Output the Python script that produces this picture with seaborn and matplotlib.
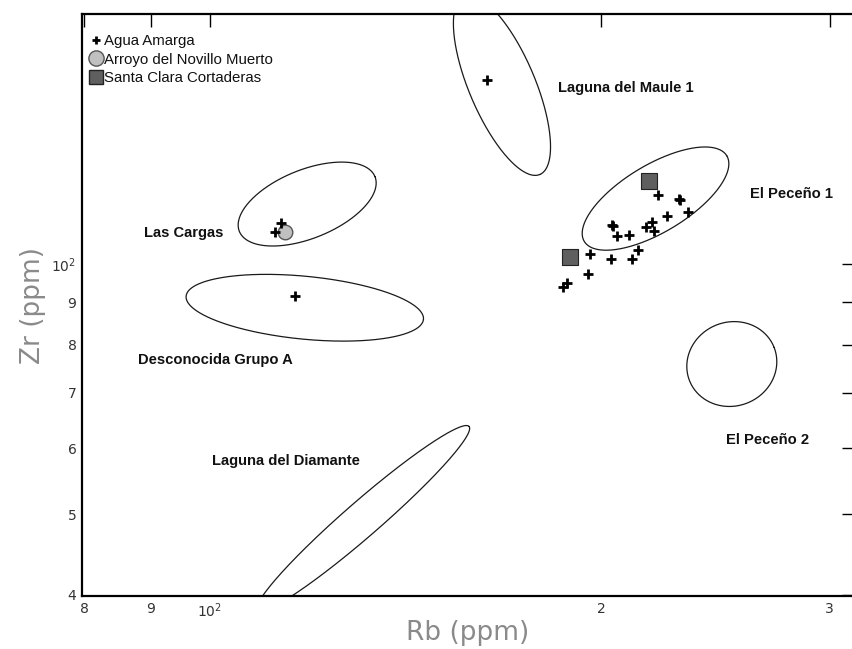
import numpy as np
import pandas as pd
import matplotlib
matplotlib.use("Agg")
import matplotlib.pyplot as plt
import seaborn as sns
from matplotlib.lines import Line2D
from matplotlib.ticker import FixedLocator, FixedFormatter, NullLocator
from matplotlib import font_manager

# ---------------- data ----------------
agua_rb = [163.4, 113.4, 112.2, 116.3, 221.1, 230.0, 229.6, 233.4, 224.9, 219.0,
           216.6, 219.7, 204.4, 204.0, 205.9, 210.3, 213.7, 196.1, 203.5, 211.2,
           195.5, 188.4, 187.1]
agua_zr = [166.5, 112.1, 109.2, 91.5, 121.1, 119.4, 119.9, 115.6, 114.3, 112.4,
           110.7, 109.6, 111.1, 111.5, 108.1, 108.4, 104.0, 102.7, 101.4, 101.4,
           97.3, 95.0, 93.8]
novillo_rb = [114.2]
novillo_zr = [109.4]
santa_rb = [217.9, 189.3]
santa_zr = [125.9, 102.0]

# source fields (ellipses): centre Rb, centre Zr, semi-axes (x-decades), angle (deg)
field_names = ["Laguna del Maule 1", "Las Cargas", "Desconocida Grupo A",
               "Laguna del Diamante", "El Peceño 2", "El Peceño 1"]
field_rb = [167.8, 118.8, 118.3, 131.2, 252.2, 220.3]
field_zr = [164.2, 118.1, 88.6, 49.4, 75.8, 119.9]
field_a = [0.0747, 0.0563, 0.0918, 0.1080, 0.0350, 0.0640]
field_b = [0.0254, 0.0264, 0.0242, 0.0135, 0.0323, 0.0259]
field_ang = [-67.0, 22.0, -5.6, 41.0, 21.5, 31.0]

# labels of the fields
label_rb = [185.3, 89.0, 88.0, 100.4, 249.5, 260.4]
label_zr = [162.8, 109.0, 76.6, 57.9, 61.4, 121.4]

x_ticks = [80, 90, 100, 200, 300]
x_ticklabels = ["8", "9", r"$10^2$", "2", "3"]
y_ticks = [40, 50, 60, 70, 80, 90, 100]
y_ticklabels = ["4", "5", "6", "7", "8", "9", r"$10^2$"]
xlim = (79.7, 313.2)
ylim = (39.85, 200.0)

# ---------------- style ----------------
sns.set_style("white")
plt.rcParams["font.family"] = ["Liberation Sans", "DejaVu Sans"]
plt.rcParams["mathtext.default"] = "regular"

names = {f.name for f in font_manager.fontManager.ttflist}
legend_family = ["Liberation Sans Narrow"] if "Liberation Sans Narrow" in names else ["Liberation Sans"]
legend_size = 12.5 if "Liberation Sans Narrow" in names else 10.8

fig = plt.figure(figsize=(8.52, 6.49), dpi=100)
ax = fig.add_axes([82 / 852, 53 / 649, 772 / 852, 582 / 649])
ax.set_xscale("log")
ax.set_yscale("log")
ax.set_xlim(*xlim)
ax.set_ylim(*ylim)

# ellipses in log space
pos = ax.get_position()
w_px = pos.width * fig.get_figwidth() * fig.dpi
h_px = pos.height * fig.get_figheight() * fig.dpi
ppd_x = w_px / np.log10(xlim[1] / xlim[0])
ppd_y = h_px / np.log10(ylim[1] / ylim[0])
k = ppd_y / ppd_x
t = np.linspace(0, 2 * np.pi, 500)
for cx, cy, a, b, ang in zip(field_rb, field_zr, field_a, field_b, field_ang):
    th = np.deg2rad(ang)
    u = a * np.cos(t) * np.cos(th) - b * np.sin(t) * np.sin(th)
    v = a * np.cos(t) * np.sin(th) + b * np.sin(t) * np.cos(th)
    ax.plot(10 ** (np.log10(cx) + u), 10 ** (np.log10(cy) + v / k),
            color="#1a1a1a", lw=0.9, zorder=2)

# points
df_agua = pd.DataFrame({"Rb": agua_rb, "Zr": agua_zr})
df_nov = pd.DataFrame({"Rb": novillo_rb, "Zr": novillo_zr})
df_sc = pd.DataFrame({"Rb": santa_rb, "Zr": santa_zr})
sns.scatterplot(data=df_agua, x="Rb", y="Zr", marker="+", s=45, color="black",
                linewidth=2.0, ax=ax, zorder=4, legend=False)
sns.scatterplot(data=df_nov, x="Rb", y="Zr", marker="o", s=110, color="#c0c0c0",
                edgecolor="#555555", linewidth=1.0, ax=ax, zorder=3, legend=False)
sns.scatterplot(data=df_sc, x="Rb", y="Zr", marker="s", s=140, color="#5f5f5f",
                edgecolor="#222222", linewidth=0.8, ax=ax, zorder=3, legend=False)

# field labels
for name, lx, ly in zip(field_names, label_rb, label_zr):
    ax.text(lx, ly, name, ha="left", va="center", fontsize=10.6,
            fontweight="bold", color="#111111", zorder=5)

# legend
handles = [
    Line2D([], [], marker="+", ls="", color="black", markersize=6, mew=2.0),
    Line2D([], [], marker="o", ls="", markerfacecolor="#c0c0c0",
           markeredgecolor="#555555", markersize=11),
    Line2D([], [], marker="s", ls="", markerfacecolor="#5f5f5f",
           markeredgecolor="#222222", markersize=10),
]
leg = ax.legend(handles, ["Agua Amarga", "Arroyo del Novillo Muerto",
                          "Santa Clara Cortaderas"],
                loc="upper left", bbox_to_anchor=(-0.002, 0.983), frameon=False,
                handlelength=0.7, handletextpad=0.2, labelspacing=0.28,
                borderaxespad=0.3, prop={"family": legend_family, "size": legend_size})
for txt in leg.get_texts():
    txt.set_color("#111111")

# axes / ticks
ax.xaxis.set_major_locator(FixedLocator(x_ticks))
ax.xaxis.set_major_formatter(FixedFormatter(x_ticklabels))
ax.xaxis.set_minor_locator(NullLocator())
ax.yaxis.set_major_locator(FixedLocator(y_ticks))
ax.yaxis.set_major_formatter(FixedFormatter(y_ticklabels))
ax.yaxis.set_minor_locator(NullLocator())
ax.tick_params(axis="both", which="major", direction="in", length=9, width=1.0,
               top=True, right=True, labelsize=10, labelcolor="#333333",
               color="black", pad=4)
for lab in ax.get_xticklabels() + ax.get_yticklabels():
    lab.set_family(["DejaVu Sans"])
for sp in ax.spines.values():
    sp.set_linewidth(1.6)
    sp.set_color("black")

ax.set_xlabel("Rb (ppm)", fontsize=19, color="#8a8a8a", family=["DejaVu Sans"],
              labelpad=0)
ax.set_ylabel("Zr (ppm)", fontsize=19, color="#8a8a8a", family=["DejaVu Sans"],
              labelpad=4)

fig.savefig("out.png", dpi=100)
